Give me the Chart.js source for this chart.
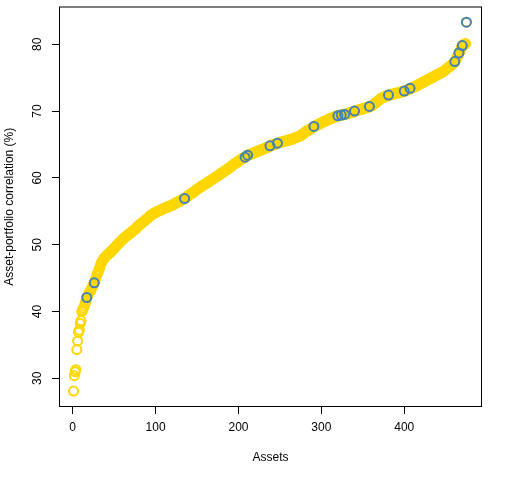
<!DOCTYPE html>
<html>
<head>
<meta charset="utf-8">
<script src="https://cdn.jsdelivr.net/npm/chart.js@4"></script>
<style>
  html, body { margin: 0; padding: 0; background: #fff; }
</style>
</head>
<body>
<canvas id="myChart" width="512" height="480"></canvas>
<script>
// sorted asset-portfolio correlations (%), one per asset
const correlations = [
  28.1, 30.4, 31.0, 31.3, 34.3, 35.6, 36.9, 37.2, 38.2, 38.6,
  40.0, 40.2, 40.5, 40.8, 41.2, 41.6, 42.1, 42.3, 42.6, 42.8,
  43.0, 43.2, 43.5, 43.7, 44.0, 44.3, 44.6, 45.0, 45.4, 45.7,
  46.0, 46.3, 46.7, 47.1, 47.4, 47.6, 47.8, 48.0, 48.1, 48.3,
  48.4, 48.5, 48.6, 48.7, 48.8, 49.0, 49.1, 49.2, 49.3, 49.5,
  49.6, 49.7, 49.9, 50.0, 50.1, 50.3, 50.4, 50.5, 50.6, 50.8,
  50.9, 51.0, 51.1, 51.2, 51.3, 51.4, 51.5, 51.6, 51.7, 51.8,
  51.9, 52.0, 52.1, 52.2, 52.3, 52.4, 52.5, 52.7, 52.8, 52.9,
  53.0, 53.1, 53.2, 53.3, 53.4, 53.5, 53.6, 53.7, 53.8, 53.9,
  54.0, 54.1, 54.3, 54.4, 54.5, 54.5, 54.6, 54.7, 54.8, 54.8,
  54.9, 55.0, 55.0, 55.1, 55.1, 55.2, 55.2, 55.3, 55.4, 55.4,
  55.5, 55.5, 55.6, 55.6, 55.7, 55.7, 55.8, 55.8, 55.9, 55.9,
  56.0, 56.1, 56.1, 56.2, 56.3, 56.3, 56.4, 56.5, 56.5, 56.6,
  56.7, 56.7, 56.8, 56.9, 56.9, 57.0, 57.1, 57.2, 57.3, 57.4,
  57.5, 57.6, 57.7, 57.7, 57.8, 57.9, 58.0, 58.1, 58.2, 58.3,
  58.4, 58.5, 58.5, 58.6, 58.7, 58.8, 58.9, 58.9, 59.0, 59.1,
  59.2, 59.3, 59.3, 59.4, 59.5, 59.6, 59.7, 59.7, 59.8, 59.9,
  60.0, 60.1, 60.2, 60.2, 60.3, 60.4, 60.5, 60.6, 60.7, 60.7,
  60.8, 60.9, 61.0, 61.1, 61.2, 61.2, 61.3, 61.4, 61.5, 61.6,
  61.7, 61.8, 61.9, 62.0, 62.1, 62.2, 62.2, 62.3, 62.4, 62.5,
  62.6, 62.7, 62.8, 62.8, 62.9, 63.0, 63.0, 63.1, 63.2, 63.3,
  63.4, 63.4, 63.5, 63.5, 63.6, 63.6, 63.7, 63.7, 63.8, 63.8,
  63.9, 63.9, 64.0, 64.0, 64.1, 64.1, 64.2, 64.2, 64.3, 64.3,
  64.4, 64.4, 64.5, 64.5, 64.6, 64.6, 64.7, 64.8, 64.8, 64.9,
  64.9, 65.0, 65.0, 65.0, 65.1, 65.1, 65.2, 65.2, 65.3, 65.3,
  65.3, 65.4, 65.4, 65.4, 65.5, 65.5, 65.5, 65.6, 65.6, 65.6,
  65.7, 65.7, 65.7, 65.8, 65.8, 65.9, 65.9, 66.0, 66.0, 66.1,
  66.1, 66.2, 66.2, 66.3, 66.3, 66.4, 66.5, 66.6, 66.7, 66.8,
  66.9, 67.0, 67.0, 67.1, 67.2, 67.3, 67.3, 67.4, 67.5, 67.6,
  67.7, 67.7, 67.8, 67.9, 67.9, 68.0, 68.0, 68.1, 68.2, 68.2,
  68.3, 68.4, 68.4, 68.5, 68.5, 68.6, 68.7, 68.7, 68.8, 68.8,
  68.9, 68.9, 69.0, 69.0, 69.1, 69.1, 69.2, 69.2, 69.3, 69.3,
  69.3, 69.3, 69.4, 69.4, 69.4, 69.4, 69.5, 69.5, 69.5, 69.6,
  69.6, 69.6, 69.7, 69.7, 69.8, 69.8, 69.8, 69.9, 69.9, 70.0,
  70.0, 70.1, 70.1, 70.1, 70.2, 70.2, 70.2, 70.3, 70.3, 70.3,
  70.4, 70.4, 70.5, 70.5, 70.5, 70.6, 70.6, 70.7, 70.7, 70.8,
  70.8, 70.9, 71.0, 71.1, 71.2, 71.3, 71.4, 71.5, 71.6, 71.7,
  71.8, 71.9, 72.0, 72.0, 72.1, 72.1, 72.2, 72.2, 72.3, 72.3,
  72.4, 72.4, 72.4, 72.5, 72.5, 72.5, 72.6, 72.6, 72.6, 72.7,
  72.7, 72.7, 72.7, 72.8, 72.8, 72.8, 72.9, 72.9, 72.9, 73.0,
  73.0, 73.1, 73.1, 73.2, 73.3, 73.3, 73.4, 73.4, 73.5, 73.5,
  73.6, 73.6, 73.7, 73.7, 73.8, 73.9, 73.9, 74.0, 74.1, 74.1,
  74.2, 74.3, 74.3, 74.4, 74.5, 74.5, 74.6, 74.7, 74.7, 74.8,
  74.9, 74.9, 75.0, 75.1, 75.1, 75.2, 75.3, 75.3, 75.4, 75.5,
  75.5, 75.6, 75.6, 75.7, 75.8, 75.8, 75.9, 76.0, 76.1, 76.2,
  76.3, 76.4, 76.5, 76.6, 76.7, 76.8, 76.9, 77.0, 77.1, 77.3,
  77.4, 77.6, 77.9, 78.1, 78.4, 78.7, 78.9, 79.2, 79.5, 79.8,
  79.9, 80.0, 80.0, 80.1, 83.3
];
// assets (1-based position) drawn again in blue
const highlighted = [17, 26, 135, 208, 211, 238, 247, 291, 320, 324, 328, 340, 358, 381, 400, 407, 461, 466, 470, 475];
const xTicks = [0, 100, 200, 300, 400];
const yTicks = [30, 40, 50, 60, 70, 80];

const allPoints = correlations.map((v, i) => ({ x: i + 1, y: v }));
const bluePoints = highlighted.map(n => ({ x: n, y: correlations[n - 1] }));

const fontFamily = '"Liberation Sans", Arial, sans-serif';
Chart.defaults.font.family = fontFamily;
Chart.defaults.font.size = 12;
Chart.defaults.color = '#000';

// R-style box + rotated y tick labels
const frame = {
  id: 'frame',
  afterDraw(chart) {
    const { ctx, chartArea: a, scales } = chart;
    ctx.save();
    ctx.strokeStyle = '#000';
    ctx.lineWidth = 1;
    ctx.strokeRect(a.left + 0.5, a.top + 0.5, a.right - a.left - 1, a.bottom - a.top - 1);
    ctx.fillStyle = '#000';
    ctx.font = '12px ' + fontFamily;
    ctx.textAlign = 'center';
    ctx.textBaseline = 'middle';
    yTicks.forEach(t => {
      const py = scales.y.getPixelForValue(t);
      ctx.save();
      ctx.translate(37.5, py);
      ctx.rotate(-Math.PI / 2);
      ctx.fillText(String(t), 0, 0);
      ctx.restore();
    });
    ctx.restore();
  }
};

new Chart(document.getElementById('myChart'), {
  type: 'scatter',
  data: {
    datasets: [
      {
        data: bluePoints,
        order: 0,
        pointStyle: 'circle',
        pointRadius: 4.5,
        pointBorderWidth: 2,
        pointBorderColor: '#4682B4',
        pointBackgroundColor: 'rgba(0,0,0,0)'
      },
      {
        data: allPoints,
        order: 1,
        pointStyle: 'circle',
        pointRadius: 4.5,
        pointBorderWidth: 2,
        pointBorderColor: '#FFD700',
        pointBackgroundColor: 'rgba(0,0,0,0)'
      }
    ]
  },
  options: {
    responsive: false,
    animation: false,
    events: [],
    layout: { padding: { top: 1, right: 30, left: 0, bottom: 0 } },
    plugins: { legend: { display: false }, tooltip: { enabled: false } },
    scales: {
      x: {
        type: 'linear',
        min: -16.5,
        max: 493.8,
        afterBuildTicks(s) { s.ticks = xTicks.map(v => ({ value: v })); },
        afterFit(s) { s.height = 73; },
        border: { display: false },
        grid: { display: true, drawOnChartArea: false, drawTicks: true, tickLength: 7, color: '#000' },
        ticks: { padding: 6, color: '#000', font: { size: 12 } },
        title: { display: true, text: 'Assets', color: '#000', font: { size: 12 }, padding: { top: 0, bottom: 15 } }
      },
      y: {
        type: 'linear',
        min: 25.71,
        max: 85.65,
        afterBuildTicks(s) { s.ticks = yTicks.map(v => ({ value: v })); },
        afterFit(s) { s.width = 59; },
        border: { display: false },
        grid: { display: true, drawOnChartArea: false, drawTicks: true, tickLength: 7, color: '#000' },
        ticks: { display: false },
        title: { display: true, text: 'Asset-portfolio correlation (%)', color: '#000', font: { size: 12 }, padding: { top: 2, bottom: 0 } }
      }
    }
  },
  plugins: [frame]
});
</script>
</body>
</html>
